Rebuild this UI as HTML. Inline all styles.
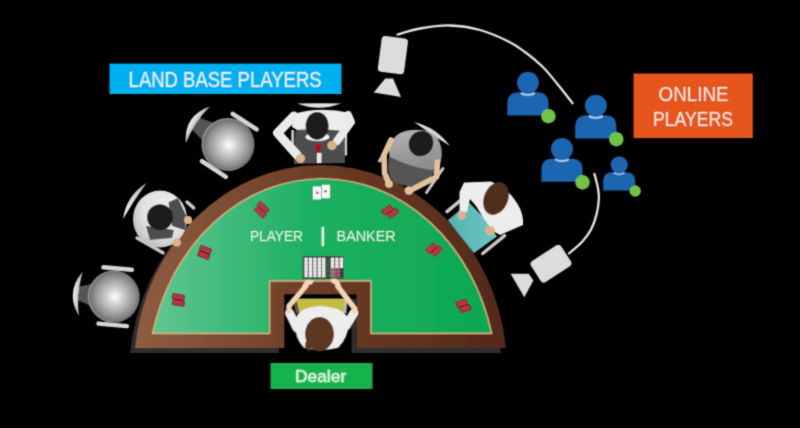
<!DOCTYPE html>
<html><head><meta charset="utf-8">
<style>
html,body{margin:0;padding:0;background:#000;width:800px;height:428px;overflow:hidden}
svg{display:block}
#wrap{width:800px;height:428px}
text{font-family:"Liberation Sans",sans-serif}
</style></head>
<body>
<div id="wrap">
<svg width="800" height="428" viewBox="0 0 800 428">
<defs>
  <filter id="soft" x="0" y="0" width="800" height="428" filterUnits="userSpaceOnUse"><feConvolveMatrix order="3" kernelMatrix="0.0276 0.111 0.0276 0.111 0.446 0.111 0.0276 0.111 0.0276" divisor="1" edgeMode="none"/></filter>
  <linearGradient id="felt" x1="150" y1="0" x2="490" y2="0" gradientUnits="userSpaceOnUse">
    <stop offset="0" stop-color="#62c692"/>
    <stop offset="0.45" stop-color="#1fb064"/>
    <stop offset="1" stop-color="#0ca84f"/>
  </linearGradient>
  <linearGradient id="rim" x1="136" y1="0" x2="505" y2="0" gradientUnits="userSpaceOnUse">
    <stop offset="0" stop-color="#8e5d40"/>
    <stop offset="0.5" stop-color="#6b3b26"/>
    <stop offset="1" stop-color="#52291b"/>
  </linearGradient>
  <radialGradient id="ball" cx="0.52" cy="0.5" r="0.5">
    <stop offset="0" stop-color="#ffffff"/>
    <stop offset="0.3" stop-color="#d2d2d2"/>
    <stop offset="0.8" stop-color="#8c8c8c"/>
    <stop offset="0.94" stop-color="#727272"/>
    <stop offset="1" stop-color="#8e8e8e"/>
  </radialGradient>
  <linearGradient id="tee" x1="0" y1="0" x2="0.3" y2="1">
    <stop offset="0" stop-color="#b4b4b4"/>
    <stop offset="1" stop-color="#8e8e8e"/>
  </linearGradient>
  <linearGradient id="back" x1="0" y1="0" x2="1" y2="0">
    <stop offset="0" stop-color="#f4f4f4"/>
    <stop offset="1" stop-color="#b0b0b0"/>
  </linearGradient>
  <linearGradient id="teal" x1="448" y1="0" x2="497" y2="0" gradientUnits="userSpaceOnUse">
    <stop offset="0" stop-color="#52b3b1"/>
    <stop offset="1" stop-color="#6ec6c2"/>
  </linearGradient>
  <radialGradient id="shirt4" cx="0.62" cy="0.35" r="0.75">
    <stop offset="0" stop-color="#f2f2f2"/>
    <stop offset="0.6" stop-color="#e0e0e0"/>
    <stop offset="1" stop-color="#b8b8b8"/>
  </radialGradient>
</defs>
<rect width="800" height="428" fill="#000"/>
<g filter="url(#soft)">

<!-- ===== TABLE ===== -->
<g id="table">
  <!-- shadow -->
  <path d="M130.05,353 A186.57,205.38 0 0 1 500.95,353 Z M279,299 L351.5,299 L351.5,353 L279,353 Z" fill="#2e2e2e" fill-rule="evenodd"/>
  <!-- brown rim -->
  <path d="M135.05,348 A186.57,205.38 0 0 1 505.95,348 Z" fill="url(#rim)"/>
  <!-- dealer cutout -->
  <rect x="284" y="294" width="72.5" height="60" fill="#000"/>
  <rect x="351.5" y="299" width="5" height="54" fill="#2e2e2e"/>
    <!-- green felt -->
  <path d="M152.48,333.5 A174.7,203.9 0 0 1 491.64,333.5 L370.9,333.5 L370.9,281 L269.7,281 L269.7,333.5 Z" fill="url(#felt)" stroke="#d8ae7e" stroke-width="1.4"/>
</g>

<!-- table text -->
<g fill="#d9f5e2">
  <text x="249.9" y="241.2" font-size="15.4" textLength="53" lengthAdjust="spacingAndGlyphs">PLAYER</text>
  <rect x="321.6" y="227" width="2.4" height="19"/>
  <text x="336.6" y="241.2" font-size="15.4" textLength="59" lengthAdjust="spacingAndGlyphs">BANKER</text>
</g>

<!-- cards -->
<g>
  <rect x="312.9" y="186.5" width="8.2" height="12.9" fill="#f7f7f7"/>
  <rect x="322" y="184.9" width="7.9" height="13.3" fill="#f7f7f7"/>
  <circle cx="317.3" cy="192.8" r="1.3" fill="#c0303a"/>
  <circle cx="325.6" cy="191.3" r="1.3" fill="#c0303a"/>
</g>

<!-- chip tray -->
<g>
  <rect x="302.8" y="256.1" width="40.8" height="22.9" fill="#3c3c3c"/>
  <g fill="#ececec">
    <rect x="304.4" y="257.6" width="3.4" height="19.8"/>
    <rect x="308.8" y="257.6" width="3.4" height="19.8"/>
    <rect x="313.2" y="257.6" width="3.4" height="19.8"/>
    <rect x="317.6" y="257.6" width="3.4" height="19.8"/>
    <rect x="322" y="257.6" width="3.4" height="19.8"/>
    <rect x="330.8" y="257.6" width="3.4" height="19.8"/>
    <rect x="335.2" y="257.6" width="3.4" height="19.8"/>
    <rect x="339.6" y="257.6" width="3.4" height="19.8"/>
  </g>
  <rect x="326.4" y="257.6" width="3.4" height="19.8" fill="#34503c"/>
  <rect x="330.8" y="268" width="3.4" height="9.4" fill="#8a7a6a"/>
  <rect x="335.2" y="268" width="3.4" height="9.4" fill="#a8343e"/>
  <rect x="339.6" y="268" width="3.4" height="9.4" fill="#2a2c50"/>
  <g stroke="#9a9a9a" stroke-width="0.5" opacity="0.6">
    <line x1="304" y1="261" x2="343" y2="261"/><line x1="304" y1="264.5" x2="343" y2="264.5"/><line x1="304" y1="268" x2="343" y2="268"/><line x1="304" y1="271.5" x2="343" y2="271.5"/><line x1="304" y1="275" x2="343" y2="275"/>
  </g>
</g>

<!-- chip stacks -->
<g fill="#c23a4a" stroke="#5e1019" stroke-width="0.9">
  <g transform="translate(260.1,212.4) rotate(45)"><rect x="-6.25" y="-2.5" width="12.5" height="5" rx="0.6"/><line x1="-5" y1="0" x2="5" y2="0" stroke="#8e2231" stroke-width="0.6"/></g>
  <g transform="translate(263.3,207.2) rotate(45)"><rect x="-6.25" y="-2.5" width="12.5" height="5" rx="0.6"/><line x1="-5" y1="0" x2="5" y2="0" stroke="#8e2231" stroke-width="0.6"/></g>
  <g transform="translate(205.4,249.7) rotate(22)"><rect x="-5.75" y="-2.60" width="11.5" height="5.2" rx="0.6"/><line x1="-4.55" y1="0" x2="4.55" y2="0" stroke="#8e2231" stroke-width="0.6"/></g>
  <g transform="translate(203.8,255.3) rotate(22)"><rect x="-5.75" y="-2.60" width="11.5" height="5.2" rx="0.6"/><line x1="-4.55" y1="0" x2="4.55" y2="0" stroke="#8e2231" stroke-width="0.6"/></g>
  <g transform="translate(178.3,297.0) rotate(10)"><rect x="-6.00" y="-2.60" width="12.0" height="5.2" rx="0.6"/><line x1="-4.80" y1="0" x2="4.80" y2="0" stroke="#8e2231" stroke-width="0.6"/></g>
  <g transform="translate(178.4,302.9) rotate(10)"><rect x="-6.00" y="-2.60" width="12.0" height="5.2" rx="0.6"/><line x1="-4.80" y1="0" x2="4.80" y2="0" stroke="#8e2231" stroke-width="0.6"/></g>
  <g transform="translate(387.1,210.1) rotate(-35)"><rect x="-5.50" y="-2.70" width="11.0" height="5.4" rx="0.6"/><line x1="-4.30" y1="0" x2="4.30" y2="0" stroke="#8e2231" stroke-width="0.6"/></g>
  <g transform="translate(393.0,213.2) rotate(-35)"><rect x="-5.50" y="-2.70" width="11.0" height="5.4" rx="0.6"/><line x1="-4.30" y1="0" x2="4.30" y2="0" stroke="#8e2231" stroke-width="0.6"/></g>
  <g transform="translate(431.1,248.3) rotate(-45)"><rect x="-5.50" y="-2.70" width="11.0" height="5.4" rx="0.6"/><line x1="-4.30" y1="0" x2="4.30" y2="0" stroke="#8e2231" stroke-width="0.6"/></g>
  <g transform="translate(437.0,251.0) rotate(-45)"><rect x="-5.50" y="-2.70" width="11.0" height="5.4" rx="0.6"/><line x1="-4.30" y1="0" x2="4.30" y2="0" stroke="#8e2231" stroke-width="0.6"/></g>
  <g transform="translate(461.7,303.3) rotate(-15)"><rect x="-5.50" y="-2.70" width="11.0" height="5.4" rx="0.6"/><line x1="-4.30" y1="0" x2="4.30" y2="0" stroke="#8e2231" stroke-width="0.6"/></g>
  <g transform="translate(465.3,308.5) rotate(-15)"><rect x="-5.50" y="-2.70" width="11.0" height="5.4" rx="0.6"/><line x1="-4.30" y1="0" x2="4.30" y2="0" stroke="#8e2231" stroke-width="0.6"/></g>
</g>

<!-- ===== CAMERAS + ARC ===== -->
<g fill="none" stroke="#e4e4e4" stroke-width="2.3" stroke-linecap="round">
  <path d="M397.5,34.5 C401.2,33.5 411.2,30.0 420.0,28.5 C428.8,27.0 440.0,25.2 450.0,25.5 C460.0,25.8 470.2,27.3 480.0,30.0 C489.8,32.7 501.0,37.8 508.5,41.5 C516.0,45.2 519.4,47.9 525.0,52.0 C530.6,56.1 536.8,61.1 542.1,66.3 C547.4,71.5 551.7,77.0 556.8,83.2 C561.9,89.4 570.0,99.9 572.6,103.2"/>
  <path d="M594.4,173.9 C595.0,176.1 597.0,183.1 597.8,187.2 C598.5,191.3 599.1,193.9 598.9,198.3 C598.7,202.8 598.0,208.7 596.7,213.9 C595.4,219.1 593.5,224.8 591.1,229.4 C588.7,234.0 585.9,237.7 582.2,241.7 C578.5,245.7 571.2,251.5 569.0,253.5"/>
</g>
<g fill="#dcdcdc">
  <rect x="-13.25" y="-18" width="26.5" height="36" rx="3.5" transform="translate(392.9,55.1) rotate(7.5)"/>
  <polygon points="385.2,78.5 393.1,78.5 401,96.9 373.8,92.5"/>
  <rect x="-18" y="-12.5" width="36" height="25" rx="4" transform="translate(551,263.7) rotate(-33)"/>
  <polygon points="510.6,273.7 528.8,273.7 533.4,280.5 524.3,297.2"/>
</g>

<!-- ===== ONLINE ICONS ===== -->
<g id="icons">
  <g transform="translate(527.9,82.8)">
    <path d="M-20.6,32.7 L-20.6,21 Q-20.6,9.5 -9,9.5 L9,9.5 Q20.6,9.5 20.6,21 L20.6,32.7 Z" fill="#1a65b0"/>
    <path d="M-7,10.3 Q0,13.8 7,10.3" fill="none" stroke="#b3d2ee" stroke-width="1.8"/>
    <circle r="11" fill="#1a65b0"/>
    <circle cx="20.5" cy="33.4" r="7.3" fill="#6fc24a"/>
  </g>
  <g transform="translate(595.8,105.8)">
    <path d="M-20.6,32.7 L-20.6,21 Q-20.6,9.5 -9,9.5 L9,9.5 Q20.6,9.5 20.6,21 L20.6,32.7 Z" fill="#1a65b0"/>
    <path d="M-7,10.3 Q0,13.8 7,10.3" fill="none" stroke="#b3d2ee" stroke-width="1.8"/>
    <circle r="11" fill="#1a65b0"/>
    <circle cx="20.5" cy="33.4" r="7.3" fill="#6fc24a"/>
  </g>
  <g transform="translate(562,149)">
    <path d="M-20.6,32.7 L-20.6,21 Q-20.6,9.5 -9,9.5 L9,9.5 Q20.6,9.5 20.6,21 L20.6,32.7 Z" fill="#1a65b0"/>
    <path d="M-7,10.3 Q0,13.8 7,10.3" fill="none" stroke="#b3d2ee" stroke-width="1.8"/>
    <circle r="11" fill="#1a65b0"/>
    <circle cx="20.5" cy="33.4" r="7.3" fill="#6fc24a"/>
  </g>
  <g transform="translate(619.2,164.9) scale(0.78)">
    <path d="M-20.6,32.7 L-20.6,21 Q-20.6,9.5 -9,9.5 L9,9.5 Q20.6,9.5 20.6,21 L20.6,32.7 Z" fill="#1a65b0"/>
    <path d="M-7,10.3 Q0,13.8 7,10.3" fill="none" stroke="#b3d2ee" stroke-width="1.8"/>
    <circle r="11" fill="#1a65b0"/>
    <circle cx="20.5" cy="33.4" r="7.3" fill="#6fc24a"/>
  </g>
</g>

<!-- ===== EMPTY CHAIRS ===== -->
<g transform="translate(228,144.5) rotate(33)">
  <path d="M-38,-7 L-22,-11 L-22,11 L-38,7 Z" fill="#555"/>
  <path d="M-36,-22 Q-53,0 -36,22 Q-40.5,0 -36,-22 Z" fill="url(#back)"/>
  <rect x="-15" y="-30.5" width="33" height="4.5" rx="2.2" fill="#d6d6d6"/>
  <rect x="-15" y="26" width="33" height="4.5" rx="2.2" fill="#d6d6d6"/>
  <circle r="26.5" fill="url(#ball)"/>
</g>
<g transform="translate(113.7,296.6) rotate(5)">
  <path d="M-35,-7 L-22,-11 L-22,11 L-35,7 Z" fill="#555"/>
  <path d="M-33,-22 Q-49,0 -33,22 Q-37.5,0 -33,-22 Z" fill="url(#back)"/>
  <rect x="-15" y="-30.5" width="33" height="4.5" rx="2.2" fill="#d6d6d6"/>
  <rect x="-15" y="26" width="33" height="4.5" rx="2.2" fill="#d6d6d6"/>
  <circle r="26" fill="url(#ball)"/>
</g>


<!-- ===== PLAYERS ===== -->
<!-- Player 1 (top) -->
<g id="p1">
  <path d="M297,103.6 Q319,102.8 341,103.6 Q319,112 297,103.6 Z" fill="#e2e2e2"/>
  <rect x="291.3" y="130" width="2.6" height="23" fill="#cfcfcf"/>
  <rect x="344.5" y="127.5" width="2.6" height="28" fill="#cfcfcf"/>
  <path d="M295,131 Q320,126 344,129 L345,163 L294,164 Z" fill="#4d4d4d"/>
  <path d="M293,114 Q320,106 350,113 L352,121 L345,131 Q320,128 297,130 L292,127 Z" fill="#ececec"/>
  <polyline points="294,116 277.5,133 297,155" fill="none" stroke="#eaeaea" stroke-width="9" stroke-linejoin="round" stroke-linecap="round"/>
  <polyline points="348,115 351,122 337,141" fill="none" stroke="#eaeaea" stroke-width="8" stroke-linejoin="round" stroke-linecap="round"/>
  <ellipse cx="317.5" cy="137" rx="12" ry="4" fill="#f2f2f2"/>
  <path d="M315.5,144 L320.5,144 L321,150 L318,153 L315,150 Z" fill="#a8101a"/>
  <rect x="317" y="153" width="4.5" height="10" fill="#e8e8e8"/>
  <circle cx="300.5" cy="158.5" r="4.6" fill="#d9b48c"/>
  <circle cx="332" cy="145.5" r="4.6" fill="#d9b48c"/>
  <ellipse cx="317.1" cy="125.8" rx="11.5" ry="13.9" fill="#1c1c1c"/>
</g>
<!-- Player 2 (top right) -->
<g id="p2">
  <path d="M414,122 Q436,127 450,146 Q432,135 414,122 Z" fill="#dadada"/>
  <line x1="379.5" y1="161" x2="384" y2="153" stroke="#c8c8c8" stroke-width="3" stroke-linecap="round"/>
  <line x1="443" y1="168.5" x2="426.5" y2="192.5" stroke="#c8c8c8" stroke-width="3" stroke-linecap="round"/>
  <path d="M390,152 Q385,172 393,182 Q408,189 423,184 Q433,178 437,166 Z" fill="#555555"/>
  <path d="M393,139 Q399,131 411,130 Q428,128 437,137 Q444,149 441,161 Q438,169 431,170 Q410,167 390,157 Q387,147 393,139 Z" fill="url(#tee)"/>
  <polyline points="391,140 384,155 384.5,173 389,183" fill="none" stroke="#e4c19c" stroke-width="5.6" stroke-linejoin="round" stroke-linecap="round"/>
  <polyline points="437.5,162 436.5,177 410,190.5" fill="none" stroke="#e4c19c" stroke-width="5.6" stroke-linejoin="round" stroke-linecap="round"/>
  <circle cx="389" cy="184" r="3.8" fill="#e4c19c"/>
  <circle cx="409" cy="190.5" r="4.2" fill="#e4c19c"/>
  <ellipse cx="421" cy="143.5" rx="12" ry="13" transform="rotate(33 421 143.5)" fill="#1c1c1c"/>
</g>
<!-- Player 3 (right, woman) -->
<g id="p3">
  <line x1="447" y1="211.7" x2="459.9" y2="200.8" stroke="#c8c8c8" stroke-width="3.5" stroke-linecap="round"/>
  <line x1="482.7" y1="253.5" x2="504.6" y2="235.6" stroke="#c8c8c8" stroke-width="3.5" stroke-linecap="round"/>
  <polygon points="448,220 469,202.5 486,220 497,236.5 474,253" fill="url(#teal)"/>
  <path d="M464,182.5 L491,181.5 Q508,188 517,203 Q524,214 523,225 L500,235 L493,231 Q488,224 484,219 L476,206 L470,199 L467,212 L459.5,212 L459.5,192 Z" fill="#ededed"/>
  <circle cx="461.8" cy="215.5" r="4.3" fill="#dcb08a"/>
  <circle cx="490" cy="230.7" r="4.8" fill="#dcb08a"/>
  <ellipse cx="496" cy="198.5" rx="12" ry="17" transform="rotate(22 496 198.5)" fill="#4f2e1c"/>
</g>
<!-- Player 4 (left) -->
<g id="p4">
  <path d="M146.5,183 Q126.4,195.5 123,219 Q133.9,200.5 146.5,183 Z" fill="url(#back)"/>
  <line x1="187" y1="202" x2="193.7" y2="207.9" stroke="#c8c8c8" stroke-width="3.5" stroke-linecap="round"/>
  <line x1="137" y1="238" x2="162.9" y2="252.8" stroke="#c8c8c8" stroke-width="3.5" stroke-linecap="round"/>
  <ellipse cx="160" cy="219" rx="27" ry="28.5" fill="url(#shirt4)"/>
  <path d="M168.5,202.3 L178,198 L186,215 L185.3,230.3 L172,226 Z" fill="#4d4d4d"/>
  <path d="M146,226 L174,230 L172,238 L150,240 Z" fill="#4d4d4d"/>
  <circle cx="188.1" cy="220" r="4" fill="#dcb48c"/>
  <circle cx="176.9" cy="242.5" r="4" fill="#dcb48c"/>
  <circle cx="160" cy="217.3" r="13" fill="#1c1c1c"/>
</g>
<!-- Dealer -->
<g id="dealer">
  <polygon points="294,298.7 346.5,298.7 344,313 298,313" fill="#c4bc42"/>
  <polygon points="292.7,298.7 296.5,298.7 299.5,313 296,313" fill="#5c5a45"/>
  <polygon points="344.5,298.7 347.5,298.7 346,313 343.5,313" fill="#bdbdbd"/>
  <polyline points="297,328 289.5,313" fill="none" stroke="#ececec" stroke-width="8.5" stroke-linejoin="round" stroke-linecap="round"/>
  <polyline points="346,326 354,313" fill="none" stroke="#ececec" stroke-width="8.5" stroke-linejoin="round" stroke-linecap="round"/>
  <polyline points="306,286 289,306 289,311" fill="none" stroke="#f2d6b8" stroke-width="5" stroke-linejoin="round" stroke-linecap="round"/>
  <polyline points="337.5,286 355,309 354.5,311" fill="none" stroke="#f2d6b8" stroke-width="5" stroke-linejoin="round" stroke-linecap="round"/>
  <path d="M302,288 Q303,281 308.5,279.5 L314,280.5 L312,284 L307.5,285.5 Z" fill="#f2d6b8"/>
  <path d="M341,287 Q340,280 335,278.5 L330,279.5 L332,283 L336.5,285 Z" fill="#f2d6b8"/>
  <path d="M296,318 Q300,307 320,306 Q342,307 348,318 Q350,336 338,347.5 Q321,352 304,347.5 Q293,336 296,318 Z" fill="#ededed"/>
  <path d="M307,340 Q302,347 309,351 L314,346 Z" fill="#5b3822"/>
  <ellipse cx="319.5" cy="334" rx="14.4" ry="17" fill="#5b3822"/>
</g>

<!-- ===== LABELS ===== -->
<rect x="109.5" y="63.6" width="232" height="30.4" fill="#05aff0"/>
<text x="128.6" y="86.6" font-size="21.8" fill="#e2f5fd" textLength="193" lengthAdjust="spacingAndGlyphs">LAND BASE PLAYERS</text>

<rect x="633.5" y="73.5" width="119.3" height="64.6" fill="#e5541a"/>
<text x="658.6" y="100.9" font-size="20.3" fill="#fde9dc" textLength="70" lengthAdjust="spacingAndGlyphs">ONLINE</text>
<text x="653" y="125.7" font-size="21" fill="#fde9dc" textLength="80" lengthAdjust="spacingAndGlyphs">PLAYERS</text>

<rect x="270.5" y="363" width="102" height="26" fill="#12b24c"/>
<text x="295" y="381.6" font-size="17" fill="#d3f5d6" stroke="#d3f5d6" stroke-width="0.55" textLength="51.2" lengthAdjust="spacingAndGlyphs">Dealer</text>

</g>
</svg>
</div>
</body></html>
